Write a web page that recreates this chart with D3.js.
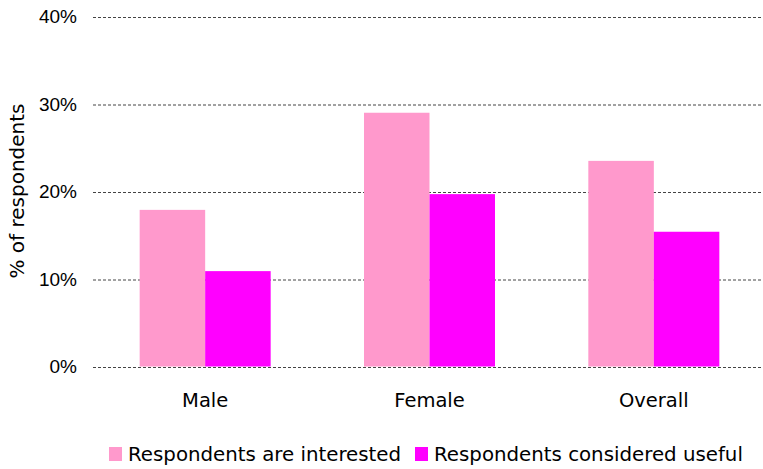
<!DOCTYPE html>
<html>
<head>
<meta charset="utf-8">
<script src="https://cdn.jsdelivr.net/npm/d3@7"></script>
<style>
  html, body { margin: 0; padding: 0; background: #fff; }
  svg { display: block; font-family: "DejaVu Sans", Verdana, sans-serif; }
</style>
</head>
<body>
<svg id="chart" width="763" height="469"></svg>
<script>
// Share of respondents by group
const categories = ["Male", "Female", "Overall"];
const seriesNames = ["Respondents are interested", "Respondents considered useful"];
const interested = [17.9, 29.0, 23.5];
const useful = [10.9, 19.7, 15.4];
const yTicks = [0, 10, 20, 30, 40];
const colors = ["#FF99CC", "#FF00FF"];

const svg = d3.select("#chart");
const plot = { left: 93, right: 766, top: 16.5, bottom: 366.5 };

const y = d3.scaleLinear().domain([0, 40]).range([plot.bottom, plot.top]);
const x0 = d3.scaleBand()
  .domain(categories)
  .range([plot.left, plot.right])
  .paddingInner(0.416)
  .paddingOuter(0.208);
const x1 = d3.scaleBand()
  .domain(seriesNames)
  .range([0, x0.bandwidth()]);

// Dotted gridlines with percentage labels
const yAxis = d3.axisLeft(y)
  .tickValues(yTicks)
  .tickFormat(d => d + "%")
  .tickSize(-(762 - plot.left))
  .tickPadding(16);

const gAxis = svg.append("g")
  .attr("transform", `translate(${plot.left},0)`)
  .call(yAxis);
gAxis.select(".domain").remove();
gAxis.selectAll(".tick line")
  .attr("stroke", "#444")
  .attr("stroke-width", 1)
  .attr("stroke-dasharray", "3,2")
  .attr("transform", "translate(0,0.5)");
gAxis.selectAll(".tick text")
  .attr("fill", "#000")
  .attr("font-size", 19)
  .attr("x", -16);

// Grouped bars
const rows = categories.map((c, i) => ({ category: c, values: [interested[i], useful[i]] }));
const groups = svg.append("g").selectAll("g")
  .data(rows)
  .join("g")
  .attr("transform", d => `translate(${x0(d.category)},0)`);

groups.selectAll("rect")
  .data(d => d.values.map((v, j) => ({ name: seriesNames[j], value: v, color: colors[j] })))
  .join("rect")
  .attr("x", d => x1(d.name))
  .attr("width", x1.bandwidth())
  .attr("y", d => y(d.value))
  .attr("height", d => y(0) - y(d.value))
  .attr("fill", d => d.color);

// Category labels
svg.append("g").selectAll("text")
  .data(categories)
  .join("text")
  .attr("x", d => x0(d) + x0.bandwidth() / 2)
  .attr("y", 407)
  .attr("text-anchor", "middle")
  .attr("font-size", 19.5)
  .attr("fill", "#000")
  .text(d => d);

// Y axis title
svg.append("text")
  .attr("transform", "translate(24,191) rotate(-90)")
  .attr("text-anchor", "middle")
  .attr("font-size", 20)
  .attr("fill", "#000")
  .text("% of respondents");

// Legend
const legendItems = [
  { name: seriesNames[0], color: colors[0], x: 109 },
  { name: seriesNames[1], color: colors[1], x: 415 }
];
const legend = svg.append("g").selectAll("g")
  .data(legendItems)
  .join("g")
  .attr("transform", d => `translate(${d.x},447)`);
legend.append("rect")
  .attr("width", 13)
  .attr("height", 14)
  .attr("fill", d => d.color);
legend.append("text")
  .attr("x", 19)
  .attr("y", 14)
  .attr("font-size", 19.8)
  .attr("fill", "#000")
  .text(d => d.name);
</script>
</body>
</html>
